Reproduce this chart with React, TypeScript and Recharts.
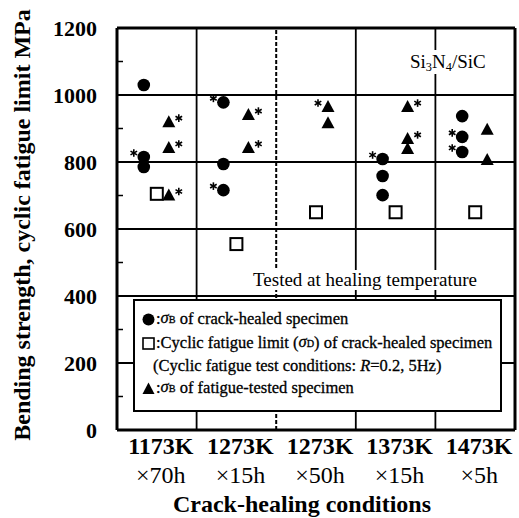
import React from 'react';
import { ScatterChart, Scatter, XAxis, YAxis, ReferenceLine } from 'recharts';

const FONT = '"Liberation Serif", "Times New Roman", serif';

// Category labels
const categories = ['1173K', '1273K', '1273K', '1373K', '1473K'];
const durations = ['×70h', '×15h', '×50h', '×15h', '×5h'];
const categoryIndex = [1, 2, 3, 4, 5];

// Axis ticks
const yTicks = [0, 100, 200, 300, 400, 500, 600, 700, 800, 900, 1000, 1100, 1200];
const gridValues = [200, 400, 600, 800, 1000];
const separators = [1.5, 2.5, 3.5, 4.5];
const dashedSeparator = 2.5;

// σB of crack-healed specimen (filled circles)
const healedCat = [1, 1, 1, 2, 2, 2, 4, 4, 4, 5, 5, 5];
const healedVal = [1030, 815, 785, 978, 794, 716, 809, 758, 701, 937, 875, 830];
const healedStar = ['', 'L', '', 'L', '', 'L', 'L', '', '', '', 'L', 'L'];

// Cyclic fatigue limit σD of crack-healed specimen (open squares)
const limitCat = [1, 2, 3, 4, 5];
const limitVal = [705, 555, 650, 650, 650];

// σB of fatigue-tested specimen (filled triangles)
const testedCat = [1, 1, 1, 2, 2, 3, 3, 4, 4, 4, 5, 5];
const testedVal = [919, 842, 700, 940, 842, 964, 916, 964, 869, 839, 896, 806];
const testedStar = ['R', 'R', 'R', 'R', 'R', 'L', '', 'R', 'R', '', '', ''];

const healedData = healedCat.map((c, i) => ({ x: c, y: healedVal[i], star: healedStar[i] }));
const limitData = limitCat.map((c, i) => ({ x: c, y: limitVal[i], star: '' }));
const testedData = testedCat.map((c, i) => ({ x: c, y: testedVal[i], star: testedStar[i] }));

const Asterisk = ({ x, y }: { x: number; y: number }) => {
  const r = 3.8;
  const lines = [90, 30, -30].map((a) => {
    const rad = (a * Math.PI) / 180;
    return { dx: r * Math.cos(rad), dy: r * Math.sin(rad) };
  });
  return (
    <g stroke="#000" strokeWidth={1.6}>
      {lines.map((l, i) => (
        <line key={i} x1={x - l.dx} y1={y - l.dy} x2={x + l.dx} y2={y + l.dy} />
      ))}
    </g>
  );
};

const starFor = (star: string, x: number, y: number) => {
  if (star === 'L') return <Asterisk x={x - 10} y={y - 4} />;
  if (star === 'R') return <Asterisk x={x + 10} y={y - 4} />;
  return null;
};

const CircleShape = (props: any) => {
  const { cx, cy, payload } = props;
  const x = cx - 13;
  return (
    <g>
      <circle cx={x} cy={cy} r={6.3} fill="#000" />
      {starFor(payload.star, x, cy)}
    </g>
  );
};

const SquareShape = (props: any) => {
  const { cx, cy } = props;
  return <rect x={cx - 6} y={cy - 6} width={12} height={12} fill="#fff" stroke="#000" strokeWidth={2} />;
};

const TriangleShape = (props: any) => {
  const { cx, cy, payload } = props;
  const x = cx + 12;
  return (
    <g>
      <polygon points={`${x},${cy - 7} ${x - 6.5},${cy + 5} ${x + 6.5},${cy + 5}`} fill="#000" />
      {starFor(payload.star, x, cy)}
    </g>
  );
};

const XTick = (props: any) => {
  const { x, y, payload } = props;
  const i = categoryIndex.indexOf(payload.value);
  return (
    <g>
      <text x={x + 4} y={y + 24} textAnchor="middle" fontFamily={FONT} fontWeight="bold" fontSize={24} fill="#000">
        {categories[i]}
      </text>
      <text x={x + 4} y={y + 53} textAnchor="middle" fontFamily={FONT} fontSize={24} fill="#000">
        {durations[i]}
      </text>
    </g>
  );
};

const YTick = (props: any) => {
  const { x, y, payload } = props;
  const v = payload.value;
  if (v % 200 === 0) {
    return (
      <text x={x - 20} y={y + 8} textAnchor="end" fontFamily={FONT} fontWeight="bold" fontSize={22} fill="#000">
        {v}
      </text>
    );
  }
  return <line x1={x} x2={x + 6} y1={y} y2={y} stroke="#000" strokeWidth={1.5} />;
};

const YLabel = () => (
  <text
    x={22}
    y={225}
    transform="rotate(-90, 22, 225)"
    textAnchor="middle"
    dominantBaseline="central"
    fontFamily={FONT}
    fontWeight="bold"
    fontSize={24}
    fill="#000"
  >
    Bending strength, cyclic fatigue limit MPa
  </text>
);

const XLabel = () => (
  <text x={302} y={512} textAnchor="middle" fontFamily={FONT} fontWeight="bold" fontSize={24} fill="#000">
    Crack-healing conditions
  </text>
);

const Sigma = ({ sub }: { sub: string }) => (
  <span>
    <i>σ</i>
    <span style={{ fontSize: '0.62em' }}>{sub}</span>
  </span>
);

const legendLine: React.CSSProperties = {
  position: 'absolute',
  height: 20,
  lineHeight: '20px',
  whiteSpace: 'nowrap',
  fontSize: 16.5,
  fontFamily: FONT,
  color: '#000',
  WebkitTextStroke: '0.3px #000',
  display: 'flex',
  alignItems: 'center',
};

export default function App() {
  return (
    <div style={{ position: 'absolute', left: 0, top: 0, width: 519, height: 518, background: '#fff' }}>
      <ScatterChart width={519} height={518} margin={{ top: 28, right: 4, bottom: 0, left: 0 }}>
        <XAxis
          dataKey="x"
          type="number"
          domain={[0.5, 5.5]}
          ticks={categoryIndex}
          interval={0}
          height={88}
          tickSize={0}
          tickMargin={0}
          tick={<XTick />}
          axisLine={{ stroke: '#000', strokeWidth: 3 }}
          label={<XLabel />}
        />
        <YAxis
          dataKey="y"
          type="number"
          domain={[0, 1200]}
          ticks={yTicks}
          interval={0}
          width={117}
          tickSize={0}
          tickMargin={0}
          tick={<YTick />}
          axisLine={{ stroke: '#000', strokeWidth: 3 }}
          label={<YLabel />}
        />
        {gridValues.map((v) => (
          <ReferenceLine key={'h' + v} y={v} stroke="#000" strokeWidth={2} />
        ))}
        {separators.map((s) => (
          <ReferenceLine
            key={'v' + s}
            x={s}
            stroke="#000"
            strokeWidth={s === dashedSeparator ? 2 : 1.8}
            strokeDasharray={s === dashedSeparator ? '4 2' : undefined}
          />
        ))}
        <ReferenceLine y={1200} stroke="#000" strokeWidth={3} />
        <ReferenceLine x={5.5} stroke="#000" strokeWidth={3} />
        <Scatter data={limitData} shape={<SquareShape />} isAnimationActive={false} />
        <Scatter data={healedData} shape={<CircleShape />} isAnimationActive={false} />
        <Scatter data={testedData} shape={<TriangleShape />} isAnimationActive={false} />
      </ScatterChart>

      {/* material label */}
      <div
        style={{
          position: 'absolute',
          left: 408,
          top: 50,
          height: 24,
          lineHeight: '24px',
          padding: '0 2px',
          background: '#fff',
          fontFamily: FONT,
          fontSize: 19,
          whiteSpace: 'nowrap',
          color: '#000',
        }}
      >
        Si<sub style={{ fontSize: '0.65em', verticalAlign: '-0.25em' }}>3</sub>N
        <sub style={{ fontSize: '0.65em', verticalAlign: '-0.25em' }}>4</sub>/SiC
      </div>

      {/* tested at healing temperature */}
      <div
        style={{
          position: 'absolute',
          left: 250,
          top: 270,
          width: 230,
          height: 20,
          lineHeight: '20px',
          textAlign: 'center',
          background: '#fff',
          fontFamily: FONT,
          fontSize: 19,
          whiteSpace: 'nowrap',
          color: '#000',
        }}
      >
        Tested at healing temperature
      </div>

      {/* legend box */}
      <div
        style={{
          position: 'absolute',
          left: 133,
          top: 299,
          width: 369,
          height: 113,
          boxSizing: 'border-box',
          border: '2px solid #000',
          background: '#fff',
        }}
      >
        <div style={{ ...legendLine, left: 7, top: 8 }}>
          <svg width={13} height={13} style={{ marginRight: 1 }}>
            <circle cx={6.5} cy={6.5} r={6} fill="#000" />
          </svg>
          :<Sigma sub="B" />&nbsp;of crack-healed specimen
        </div>
        <div style={{ ...legendLine, left: 7, top: 32 }}>
          <svg width={13} height={13} style={{ marginRight: 1 }}>
            <rect x={1} y={1} width={11} height={11} fill="#fff" stroke="#000" strokeWidth={1.6} />
          </svg>
          :Cyclic fatigue limit (<Sigma sub="D" />) of crack-healed specimen
        </div>
        <div style={{ ...legendLine, left: 18, top: 55 }}>
          (Cyclic fatigue test conditions:&nbsp;<i>R</i>=0.2, 5Hz)
        </div>
        <div style={{ ...legendLine, left: 7, top: 77 }}>
          <svg width={13} height={13} style={{ marginRight: 1 }}>
            <polygon points="6.5,0.5 0.5,12 12.5,12" fill="#000" />
          </svg>
          :<Sigma sub="B" />&nbsp;of fatigue-tested specimen
        </div>
      </div>
    </div>
  );
}
